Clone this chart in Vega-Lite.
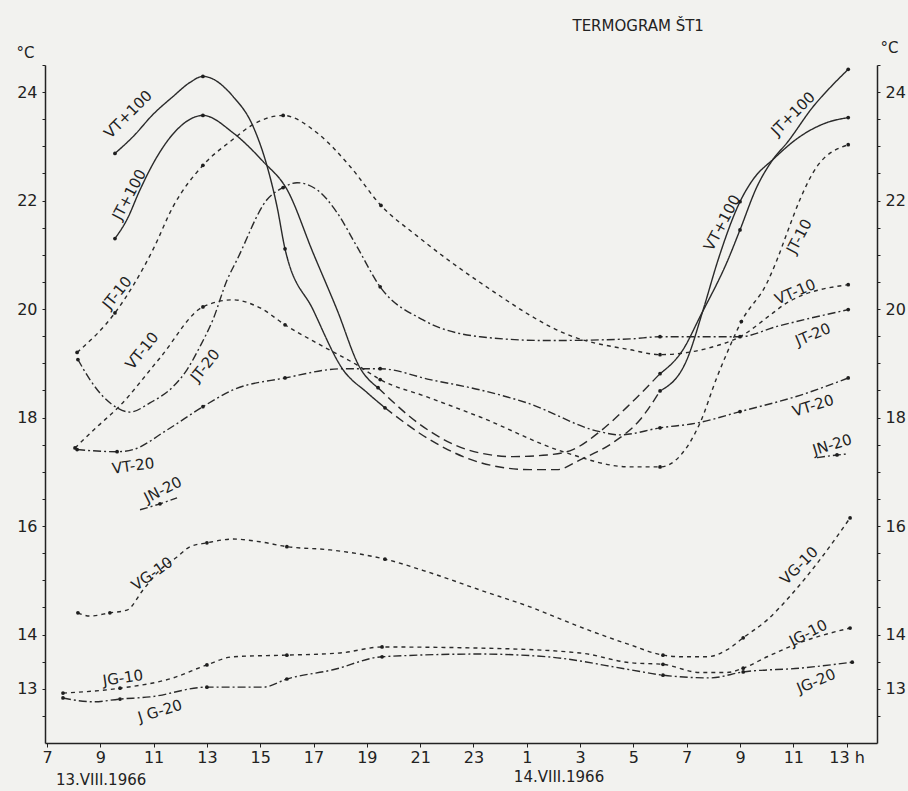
{
  "$schema": "https://vega.github.io/schema/vega-lite/v6.json",
  "width": 832,
  "height": 678,
  "autosize": {"type": "none"},
  "padding": {"left": 45, "top": 65, "right": 31, "bottom": 48},
  "background": "#f2f2ef",
  "config": {
    "view": {"stroke": null},
    "font": "DejaVu Sans",
    "text": {"font": "DejaVu Sans", "fontSize": 15, "color": "#222222"}
  },
  "datasets": {
    "curves": [
      {"seg": "VT+100 a", "h": 9.55, "t": 22.87, "obs": 1},
      {"seg": "VT+100 a", "h": 10.23, "t": 23.18, "obs": 0},
      {"seg": "VT+100 a", "h": 10.98, "t": 23.59, "obs": 0},
      {"seg": "VT+100 a", "h": 11.73, "t": 23.92, "obs": 0},
      {"seg": "VT+100 a", "h": 12.37, "t": 24.18, "obs": 0},
      {"seg": "VT+100 a", "h": 12.85, "t": 24.29, "obs": 1},
      {"seg": "VT+100 a", "h": 13.98, "t": 23.92, "obs": 0},
      {"seg": "VT+100 a", "h": 14.73, "t": 23.37, "obs": 0},
      {"seg": "VT+100 a", "h": 15.26, "t": 22.63, "obs": 0},
      {"seg": "VT+100 a", "h": 15.63, "t": 21.89, "obs": 0},
      {"seg": "VT+100 a", "h": 15.93, "t": 21.11, "obs": 1},
      {"seg": "VT+100 a", "h": 16.98, "t": 19.99, "obs": 0},
      {"seg": "VT+100 a", "h": 18.11, "t": 18.88, "obs": 0},
      {"seg": "VT+100 a", "h": 19.01, "t": 18.46, "obs": 0},
      {"seg": "VT+100 a", "h": 19.68, "t": 18.18, "obs": 1},
      {"seg": "VT+100 n", "h": 19.68, "t": 18.18, "obs": 0},
      {"seg": "VT+100 n", "h": 21.37, "t": 17.59, "obs": 0},
      {"seg": "VT+100 n", "h": 23.25, "t": 17.17, "obs": 0},
      {"seg": "VT+100 n", "h": 25.12, "t": 17.04, "obs": 0},
      {"seg": "VT+100 n", "h": 26.13, "t": 17.04, "obs": 0},
      {"seg": "VT+100 n", "h": 27.0, "t": 17.22, "obs": 0},
      {"seg": "VT+100 n", "h": 28.24, "t": 17.54, "obs": 0},
      {"seg": "VT+100 n", "h": 29.25, "t": 17.96, "obs": 0},
      {"seg": "VT+100 n", "h": 30.0, "t": 18.49, "obs": 0},
      {"seg": "VT+100 b", "h": 30.0, "t": 18.49, "obs": 1},
      {"seg": "VT+100 b", "h": 31.01, "t": 19.07, "obs": 0},
      {"seg": "VT+100 b", "h": 31.62, "t": 19.99, "obs": 0},
      {"seg": "VT+100 b", "h": 32.18, "t": 20.91, "obs": 0},
      {"seg": "VT+100 b", "h": 33.0, "t": 21.98, "obs": 1},
      {"seg": "VT+100 b", "h": 33.49, "t": 22.39, "obs": 0},
      {"seg": "VT+100 b", "h": 34.24, "t": 22.76, "obs": 0},
      {"seg": "VT+100 b", "h": 35.25, "t": 23.18, "obs": 0},
      {"seg": "VT+100 b", "h": 36.27, "t": 23.44, "obs": 0},
      {"seg": "VT+100 b", "h": 37.06, "t": 23.53, "obs": 1},
      {"seg": "JT+100 a", "h": 9.55, "t": 21.3, "obs": 1},
      {"seg": "JT+100 a", "h": 10.0, "t": 21.65, "obs": 0},
      {"seg": "JT+100 a", "h": 10.49, "t": 22.2, "obs": 0},
      {"seg": "JT+100 a", "h": 11.13, "t": 22.81, "obs": 0},
      {"seg": "JT+100 a", "h": 11.88, "t": 23.31, "obs": 0},
      {"seg": "JT+100 a", "h": 12.85, "t": 23.57, "obs": 1},
      {"seg": "JT+100 a", "h": 13.98, "t": 23.25, "obs": 0},
      {"seg": "JT+100 a", "h": 15.11, "t": 22.72, "obs": 0},
      {"seg": "JT+100 a", "h": 16.01, "t": 22.2, "obs": 0},
      {"seg": "JT+100 a", "h": 16.98, "t": 21.04, "obs": 0},
      {"seg": "JT+100 a", "h": 17.88, "t": 19.99, "obs": 0},
      {"seg": "JT+100 a", "h": 18.74, "t": 18.92, "obs": 0},
      {"seg": "JT+100 a", "h": 19.42, "t": 18.55, "obs": 1},
      {"seg": "JT+100 n", "h": 19.42, "t": 18.55, "obs": 0},
      {"seg": "JT+100 n", "h": 21.0, "t": 17.87, "obs": 0},
      {"seg": "JT+100 n", "h": 22.76, "t": 17.41, "obs": 0},
      {"seg": "JT+100 n", "h": 24.49, "t": 17.28, "obs": 0},
      {"seg": "JT+100 n", "h": 25.76, "t": 17.31, "obs": 0},
      {"seg": "JT+100 n", "h": 26.73, "t": 17.41, "obs": 0},
      {"seg": "JT+100 n", "h": 27.74, "t": 17.74, "obs": 0},
      {"seg": "JT+100 n", "h": 28.86, "t": 18.24, "obs": 0},
      {"seg": "JT+100 n", "h": 30.0, "t": 18.81, "obs": 0},
      {"seg": "JT+100 b", "h": 30.0, "t": 18.81, "obs": 1},
      {"seg": "JT+100 b", "h": 30.86, "t": 19.25, "obs": 0},
      {"seg": "JT+100 b", "h": 31.5, "t": 19.86, "obs": 0},
      {"seg": "JT+100 b", "h": 32.55, "t": 20.91, "obs": 0},
      {"seg": "JT+100 b", "h": 33.0, "t": 21.46, "obs": 1},
      {"seg": "JT+100 b", "h": 33.64, "t": 22.26, "obs": 0},
      {"seg": "JT+100 b", "h": 34.24, "t": 22.76, "obs": 0},
      {"seg": "JT+100 b", "h": 34.77, "t": 23.07, "obs": 0},
      {"seg": "JT+100 b", "h": 35.74, "t": 23.73, "obs": 0},
      {"seg": "JT+100 b", "h": 36.49, "t": 24.14, "obs": 0},
      {"seg": "JT+100 b", "h": 37.06, "t": 24.42, "obs": 1},
      {"seg": "JT-10", "h": 8.13, "t": 19.2, "obs": 1},
      {"seg": "JT-10", "h": 9.55, "t": 19.93, "obs": 1},
      {"seg": "JT-10", "h": 10.98, "t": 21.1, "obs": 0},
      {"seg": "JT-10", "h": 11.73, "t": 21.89, "obs": 0},
      {"seg": "JT-10", "h": 12.85, "t": 22.65, "obs": 1},
      {"seg": "JT-10", "h": 13.98, "t": 23.13, "obs": 0},
      {"seg": "JT-10", "h": 14.62, "t": 23.37, "obs": 0},
      {"seg": "JT-10", "h": 15.86, "t": 23.57, "obs": 1},
      {"seg": "JT-10", "h": 17.13, "t": 23.25, "obs": 0},
      {"seg": "JT-10", "h": 18.37, "t": 22.63, "obs": 0},
      {"seg": "JT-10", "h": 19.53, "t": 21.91, "obs": 1},
      {"seg": "JT-10", "h": 20.88, "t": 21.35, "obs": 0},
      {"seg": "JT-10", "h": 23.25, "t": 20.49, "obs": 0},
      {"seg": "JT-10", "h": 26.74, "t": 19.49, "obs": 0},
      {"seg": "JT-10", "h": 28.88, "t": 19.25, "obs": 0},
      {"seg": "JT-10", "h": 30.0, "t": 19.16, "obs": 1},
      {"seg": "JT-10", "h": 31.88, "t": 19.29, "obs": 0},
      {"seg": "JT-10", "h": 33.0, "t": 19.49, "obs": 0},
      {"seg": "JT-10", "h": 34.24, "t": 19.93, "obs": 0},
      {"seg": "JT-10", "h": 34.77, "t": 20.12, "obs": 0},
      {"seg": "JT-10", "h": 37.06, "t": 20.45, "obs": 1},
      {"seg": "VT-10", "h": 8.05, "t": 17.44, "obs": 1},
      {"seg": "VT-10", "h": 8.88, "t": 17.83, "obs": 0},
      {"seg": "VT-10", "h": 9.66, "t": 18.18, "obs": 0},
      {"seg": "VT-10", "h": 11.24, "t": 19.1, "obs": 0},
      {"seg": "VT-10", "h": 12.85, "t": 20.04, "obs": 1},
      {"seg": "VT-10", "h": 13.98, "t": 20.17, "obs": 0},
      {"seg": "VT-10", "h": 15.0, "t": 20.02, "obs": 0},
      {"seg": "VT-10", "h": 15.93, "t": 19.71, "obs": 1},
      {"seg": "VT-10", "h": 17.36, "t": 19.31, "obs": 0},
      {"seg": "VT-10", "h": 18.63, "t": 18.97, "obs": 0},
      {"seg": "VT-10", "h": 19.5, "t": 18.7, "obs": 1},
      {"seg": "VT-10", "h": 21.26, "t": 18.38, "obs": 0},
      {"seg": "VT-10", "h": 23.25, "t": 18.01, "obs": 0},
      {"seg": "VT-10", "h": 26.36, "t": 17.37, "obs": 0},
      {"seg": "VT-10", "h": 28.88, "t": 17.09, "obs": 0},
      {"seg": "VT-10", "h": 30.0, "t": 17.09, "obs": 1},
      {"seg": "VT-10", "h": 31.5, "t": 17.9, "obs": 0},
      {"seg": "VT-10", "h": 32.14, "t": 18.75, "obs": 0},
      {"seg": "VT-10", "h": 32.52, "t": 19.2, "obs": 0},
      {"seg": "VT-10", "h": 33.05, "t": 19.77, "obs": 1},
      {"seg": "VT-10", "h": 34.02, "t": 20.49, "obs": 0},
      {"seg": "VT-10", "h": 34.39, "t": 20.91, "obs": 0},
      {"seg": "VT-10", "h": 34.77, "t": 21.41, "obs": 0},
      {"seg": "VT-10", "h": 35.25, "t": 22.02, "obs": 0},
      {"seg": "VT-10", "h": 35.89, "t": 22.63, "obs": 0},
      {"seg": "VT-10", "h": 37.06, "t": 23.03, "obs": 1},
      {"seg": "JT-20", "h": 8.16, "t": 19.07, "obs": 1},
      {"seg": "JT-20", "h": 8.61, "t": 18.7, "obs": 0},
      {"seg": "JT-20", "h": 9.1, "t": 18.39, "obs": 0},
      {"seg": "JT-20", "h": 9.63, "t": 18.18, "obs": 0},
      {"seg": "JT-20", "h": 10.11, "t": 18.1, "obs": 0},
      {"seg": "JT-20", "h": 10.86, "t": 18.27, "obs": 0},
      {"seg": "JT-20", "h": 11.73, "t": 18.57, "obs": 0},
      {"seg": "JT-20", "h": 12.25, "t": 18.88, "obs": 0},
      {"seg": "JT-20", "h": 12.74, "t": 19.31, "obs": 0},
      {"seg": "JT-20", "h": 13.23, "t": 19.81, "obs": 0},
      {"seg": "JT-20", "h": 13.76, "t": 20.54, "obs": 0},
      {"seg": "JT-20", "h": 14.13, "t": 20.91, "obs": 0},
      {"seg": "JT-20", "h": 15.26, "t": 22.02, "obs": 0},
      {"seg": "JT-20", "h": 15.86, "t": 22.24, "obs": 1},
      {"seg": "JT-20", "h": 16.38, "t": 22.33, "obs": 0},
      {"seg": "JT-20", "h": 17.13, "t": 22.2, "obs": 0},
      {"seg": "JT-20", "h": 17.88, "t": 21.78, "obs": 0},
      {"seg": "JT-20", "h": 18.63, "t": 21.15, "obs": 0},
      {"seg": "JT-20", "h": 19.5, "t": 20.41, "obs": 1},
      {"seg": "JT-20", "h": 21.11, "t": 19.8, "obs": 0},
      {"seg": "JT-20", "h": 23.25, "t": 19.49, "obs": 0},
      {"seg": "JT-20", "h": 25.76, "t": 19.42, "obs": 0},
      {"seg": "JT-20", "h": 28.88, "t": 19.45, "obs": 0},
      {"seg": "JT-20", "h": 30.0, "t": 19.49, "obs": 1},
      {"seg": "JT-20", "h": 33.0, "t": 19.49, "obs": 1},
      {"seg": "JT-20", "h": 34.39, "t": 19.68, "obs": 0},
      {"seg": "JT-20", "h": 37.06, "t": 19.99, "obs": 1},
      {"seg": "VT-20", "h": 8.13, "t": 17.41, "obs": 1},
      {"seg": "VT-20", "h": 9.63, "t": 17.37, "obs": 1},
      {"seg": "VT-20", "h": 10.23, "t": 17.41, "obs": 0},
      {"seg": "VT-20", "h": 11.5, "t": 17.77, "obs": 0},
      {"seg": "VT-20", "h": 12.85, "t": 18.2, "obs": 1},
      {"seg": "VT-20", "h": 13.98, "t": 18.51, "obs": 0},
      {"seg": "VT-20", "h": 15.93, "t": 18.73, "obs": 1},
      {"seg": "VT-20", "h": 18.11, "t": 18.9, "obs": 0},
      {"seg": "VT-20", "h": 19.5, "t": 18.9, "obs": 1},
      {"seg": "VT-20", "h": 21.37, "t": 18.7, "obs": 0},
      {"seg": "VT-20", "h": 23.25, "t": 18.51, "obs": 0},
      {"seg": "VT-20", "h": 25.01, "t": 18.27, "obs": 0},
      {"seg": "VT-20", "h": 27.74, "t": 17.74, "obs": 0},
      {"seg": "VT-20", "h": 28.5, "t": 17.68, "obs": 0},
      {"seg": "VT-20", "h": 30.0, "t": 17.81, "obs": 1},
      {"seg": "VT-20", "h": 31.39, "t": 17.9, "obs": 0},
      {"seg": "VT-20", "h": 33.0, "t": 18.11, "obs": 1},
      {"seg": "VT-20", "h": 35.25, "t": 18.41, "obs": 0},
      {"seg": "VT-20", "h": 37.06, "t": 18.73, "obs": 1},
      {"seg": "JN-20 a", "h": 10.49, "t": 16.3, "obs": 0},
      {"seg": "JN-20 a", "h": 11.24, "t": 16.41, "obs": 1},
      {"seg": "JN-20 a", "h": 11.88, "t": 16.52, "obs": 0},
      {"seg": "JN-20 b", "h": 35.89, "t": 17.26, "obs": 0},
      {"seg": "JN-20 b", "h": 36.64, "t": 17.31, "obs": 1},
      {"seg": "JN-20 b", "h": 37.06, "t": 17.33, "obs": 0},
      {"seg": "VG-10", "h": 8.16, "t": 14.4, "obs": 1},
      {"seg": "VG-10", "h": 8.61, "t": 14.34, "obs": 0},
      {"seg": "VG-10", "h": 9.36, "t": 14.4, "obs": 1},
      {"seg": "VG-10", "h": 10.0, "t": 14.45, "obs": 0},
      {"seg": "VG-10", "h": 10.6, "t": 14.82, "obs": 0},
      {"seg": "VG-10", "h": 11.24, "t": 15.19, "obs": 0},
      {"seg": "VG-10", "h": 11.88, "t": 15.43, "obs": 0},
      {"seg": "VG-10", "h": 12.37, "t": 15.62, "obs": 0},
      {"seg": "VG-10", "h": 13.0, "t": 15.69, "obs": 1},
      {"seg": "VG-10", "h": 13.98, "t": 15.76, "obs": 0},
      {"seg": "VG-10", "h": 14.99, "t": 15.71, "obs": 0},
      {"seg": "VG-10", "h": 16.0, "t": 15.62, "obs": 1},
      {"seg": "VG-10", "h": 17.62, "t": 15.56, "obs": 0},
      {"seg": "VG-10", "h": 19.68, "t": 15.39, "obs": 1},
      {"seg": "VG-10", "h": 21.37, "t": 15.14, "obs": 0},
      {"seg": "VG-10", "h": 23.25, "t": 14.82, "obs": 0},
      {"seg": "VG-10", "h": 25.12, "t": 14.51, "obs": 0},
      {"seg": "VG-10", "h": 27.0, "t": 14.14, "obs": 0},
      {"seg": "VG-10", "h": 28.88, "t": 13.81, "obs": 0},
      {"seg": "VG-10", "h": 30.11, "t": 13.62, "obs": 1},
      {"seg": "VG-10", "h": 30.86, "t": 13.59, "obs": 0},
      {"seg": "VG-10", "h": 31.77, "t": 13.59, "obs": 0},
      {"seg": "VG-10", "h": 32.52, "t": 13.72, "obs": 0},
      {"seg": "VG-10", "h": 33.12, "t": 13.94, "obs": 1},
      {"seg": "VG-10", "h": 34.02, "t": 14.27, "obs": 0},
      {"seg": "VG-10", "h": 34.99, "t": 14.77, "obs": 0},
      {"seg": "VG-10", "h": 36.0, "t": 15.38, "obs": 0},
      {"seg": "VG-10", "h": 37.13, "t": 16.15, "obs": 1},
      {"seg": "JG-10", "h": 7.6, "t": 12.92, "obs": 1},
      {"seg": "JG-10", "h": 9.74, "t": 13.01, "obs": 1},
      {"seg": "JG-10", "h": 11.73, "t": 13.2, "obs": 0},
      {"seg": "JG-10", "h": 13.0, "t": 13.44, "obs": 1},
      {"seg": "JG-10", "h": 13.98, "t": 13.59, "obs": 0},
      {"seg": "JG-10", "h": 16.0, "t": 13.62, "obs": 1},
      {"seg": "JG-10", "h": 18.0, "t": 13.66, "obs": 0},
      {"seg": "JG-10", "h": 19.57, "t": 13.77, "obs": 1},
      {"seg": "JG-10", "h": 23.25, "t": 13.75, "obs": 0},
      {"seg": "JG-10", "h": 27.0, "t": 13.66, "obs": 0},
      {"seg": "JG-10", "h": 28.88, "t": 13.48, "obs": 0},
      {"seg": "JG-10", "h": 30.11, "t": 13.45, "obs": 1},
      {"seg": "JG-10", "h": 31.5, "t": 13.3, "obs": 0},
      {"seg": "JG-10", "h": 32.5, "t": 13.3, "obs": 0},
      {"seg": "JG-10", "h": 33.12, "t": 13.38, "obs": 1},
      {"seg": "JG-10", "h": 34.02, "t": 13.59, "obs": 0},
      {"seg": "JG-10", "h": 35.25, "t": 13.85, "obs": 0},
      {"seg": "JG-10", "h": 37.13, "t": 14.12, "obs": 1},
      {"seg": "JG-20", "h": 7.6, "t": 12.83, "obs": 1},
      {"seg": "JG-20", "h": 8.73, "t": 12.76, "obs": 0},
      {"seg": "JG-20", "h": 9.74, "t": 12.81, "obs": 1},
      {"seg": "JG-20", "h": 10.86, "t": 12.85, "obs": 0},
      {"seg": "JG-20", "h": 13.0, "t": 13.03, "obs": 1},
      {"seg": "JG-20", "h": 15.11, "t": 13.03, "obs": 0},
      {"seg": "JG-20", "h": 16.0, "t": 13.18, "obs": 1},
      {"seg": "JG-20", "h": 17.73, "t": 13.35, "obs": 0},
      {"seg": "JG-20", "h": 19.57, "t": 13.59, "obs": 1},
      {"seg": "JG-20", "h": 23.25, "t": 13.64, "obs": 0},
      {"seg": "JG-20", "h": 25.76, "t": 13.59, "obs": 0},
      {"seg": "JG-20", "h": 28.88, "t": 13.35, "obs": 0},
      {"seg": "JG-20", "h": 30.11, "t": 13.25, "obs": 1},
      {"seg": "JG-20", "h": 31.88, "t": 13.2, "obs": 0},
      {"seg": "JG-20", "h": 33.12, "t": 13.31, "obs": 1},
      {"seg": "JG-20", "h": 35.25, "t": 13.38, "obs": 0},
      {"seg": "JG-20", "h": 37.21, "t": 13.49, "obs": 1}
    ],
    "labels": [
      {"name": "VT+100", "side": "L", "h": 10.04, "t": 23.59},
      {"name": "JT+100", "side": "L", "h": 10.08, "t": 22.11},
      {"name": "JT-10", "side": "L", "h": 9.63, "t": 20.3},
      {"name": "VT-10", "side": "L", "h": 10.56, "t": 19.23},
      {"name": "JT-20", "side": "L", "h": 12.93, "t": 18.96},
      {"name": "VT-20", "side": "L", "h": 10.23, "t": 17.11},
      {"name": "JN-20", "side": "L", "h": 11.35, "t": 16.67},
      {"name": "VG-10", "side": "L", "h": 10.94, "t": 15.12},
      {"name": "JG-10", "side": "L", "h": 9.85, "t": 13.2},
      {"name": "J G-20", "side": "L", "h": 11.24, "t": 12.59},
      {"name": "JT+100", "side": "R", "h": 34.99, "t": 23.6},
      {"name": "VT+100", "side": "R", "h": 32.33, "t": 21.59},
      {"name": "JT-10", "side": "R", "h": 35.22, "t": 21.34},
      {"name": "VT-10", "side": "R", "h": 35.07, "t": 20.32},
      {"name": "JT-20", "side": "R", "h": 35.74, "t": 19.53},
      {"name": "VT-20", "side": "R", "h": 35.74, "t": 18.22},
      {"name": "JN-20", "side": "R", "h": 36.46, "t": 17.5},
      {"name": "VG-10", "side": "R", "h": 35.22, "t": 15.27},
      {"name": "JG-10", "side": "R", "h": 35.56, "t": 14.03},
      {"name": "JG-20", "side": "R", "h": 35.86, "t": 13.14}
    ],
    "notes": [
      {"text": "TERMOGRAM ŠT1", "h": 29.18, "t": 25.21},
      {"text": "13.VIII.1966", "h": 9.03, "t": 11.32},
      {"text": "14.VIII.1966", "h": 26.21, "t": 11.37}
    ]
  },
  "resolve": {"axis": {"y": "independent"}},
  "layer": [
    {
      "data": {"name": "curves"},
      "mark": {"type": "line", "interpolate": "monotone", "strokeWidth": 1.4, "color": "#2a2a2a"},
      "encoding": {
        "x": {
          "field": "h", "type": "quantitative",
          "scale": {"domain": [6.925, 38.14], "nice": false, "zero": false},
          "axis": {
            "values": [7, 8, 9, 10, 11, 12, 13, 14, 15, 16, 17, 18, 19, 20, 21, 22, 23, 24, 25, 26, 27, 28, 29, 30, 31, 32, 33, 34, 35, 36, 37],
            "labelExpr": "datum.value % 2 == 1 ? (datum.value > 24 ? datum.value - 24 : datum.value) + (datum.value == 37 ? ' h' : '') : ''",
            "title": null, "grid": false, "tickSize": 4, "labelPadding": 2,
            "labelFontSize": 16, "labelFont": "DejaVu Sans", "labelColor": "#222222",
            "domainColor": "#222222", "domainWidth": 1.5, "tickColor": "#222222", "labelFlush": false, "labelOverlap": false
          }
        },
        "y": {
          "field": "t", "type": "quantitative",
          "scale": {"domain": [12, 24.5], "nice": false, "zero": false},
          "axis": {
            "orient": "left",
            "values": [12.5, 13, 13.5, 14, 14.5, 15, 15.5, 16, 16.5, 17, 17.5, 18, 18.5, 19, 19.5, 20, 20.5, 21, 21.5, 22, 22.5, 23, 23.5, 24, 24.5],
            "labelExpr": "indexof([13, 14, 16, 18, 20, 22, 24], datum.value) >= 0 ? '' + datum.value : ''",
            "grid": false, "tickSize": 3, "labelPadding": 5,
            "labelFontSize": 16, "labelFont": "DejaVu Sans", "labelColor": "#222222",
            "domainColor": "#222222", "domainWidth": 1.5, "tickColor": "#222222", "labelOverlap": false,
            "title": "°C", "titleAngle": 0, "titleX": -20, "titleY": -13, "titleAlign": "center", "titleBaseline": "middle",
            "titleFontSize": 15, "titleFontWeight": "normal", "titleFont": "DejaVu Sans", "titleColor": "#222222"
          }
        },
        "detail": {"field": "seg"},
        "strokeDash": {
          "field": "seg", "type": "nominal", "legend": null,
          "scale": {
            "domain": ["VT+100 a", "VT+100 n", "VT+100 b", "JT+100 a", "JT+100 n", "JT+100 b", "JT-10", "VT-10", "VG-10", "JG-10", "JT-20", "VT-20", "JN-20 a", "JN-20 b", "JG-20"],
            "range": [[1, 0], [9, 5], [1, 0], [1, 0], [9, 5], [1, 0], [4, 4], [4, 4], [4, 4], [4, 4], [8, 3, 2, 3], [8, 3, 2, 3], [8, 3, 2, 3], [8, 3, 2, 3], [8, 3, 2, 3]]
          }
        }
      }
    },
    {
      "data": {"name": "curves"},
      "transform": [{"filter": "datum.obs == 1"}],
      "mark": {"type": "circle", "size": 14, "color": "#1e1e1e", "opacity": 1},
      "encoding": {
        "x": {"field": "h", "type": "quantitative"},
        "y": {
          "field": "t", "type": "quantitative",
          "axis": {
            "orient": "right",
            "values": [12.5, 13, 13.5, 14, 14.5, 15, 15.5, 16, 16.5, 17, 17.5, 18, 18.5, 19, 19.5, 20, 20.5, 21, 21.5, 22, 22.5, 23, 23.5, 24, 24.5],
            "labelExpr": "indexof([13, 14, 16, 18, 20, 22, 24], datum.value) >= 0 ? '' + datum.value : ''",
            "grid": false, "tickSize": 3, "labelPadding": 5,
            "labelFontSize": 16, "labelFont": "DejaVu Sans", "labelColor": "#222222",
            "domainColor": "#222222", "domainWidth": 1.5, "tickColor": "#222222", "labelOverlap": false,
            "title": "°C", "titleAngle": 0, "titleX": 12, "titleY": -18, "titleAlign": "center", "titleBaseline": "middle",
            "titleFontSize": 15, "titleFontWeight": "normal", "titleFont": "DejaVu Sans", "titleColor": "#222222"
          }
        }
      }
    },
    {
      "data": {"name": "labels"},
      "transform": [{"filter": "indexof(['VT+100L', 'JT+100R', 'VG-10R'], datum.name + datum.side) >= 0"}],
      "mark": {"type": "text", "angle": -45, "fontSize": 15},
      "encoding": {"x": {"field": "h", "type": "quantitative"}, "y": {"field": "t", "type": "quantitative", "axis": null}, "text": {"field": "name"}}
    },
    {
      "data": {"name": "labels"},
      "transform": [{"filter": "indexof(['JT+100L', 'VT+100R', 'JT-10R'], datum.name + datum.side) >= 0"}],
      "mark": {"type": "text", "angle": -62, "fontSize": 15},
      "encoding": {"x": {"field": "h", "type": "quantitative"}, "y": {"field": "t", "type": "quantitative", "axis": null}, "text": {"field": "name"}}
    },
    {
      "data": {"name": "labels"},
      "transform": [{"filter": "indexof(['JT-10L', 'VT-10L', 'JT-20L'], datum.name + datum.side) >= 0"}],
      "mark": {"type": "text", "angle": -51, "fontSize": 15},
      "encoding": {"x": {"field": "h", "type": "quantitative"}, "y": {"field": "t", "type": "quantitative", "axis": null}, "text": {"field": "name"}}
    },
    {
      "data": {"name": "labels"},
      "transform": [{"filter": "indexof(['VT-20L', 'JG-10L'], datum.name + datum.side) >= 0"}],
      "mark": {"type": "text", "angle": -8, "fontSize": 15},
      "encoding": {"x": {"field": "h", "type": "quantitative"}, "y": {"field": "t", "type": "quantitative", "axis": null}, "text": {"field": "name"}}
    },
    {
      "data": {"name": "labels"},
      "transform": [{"filter": "indexof(['JN-20L', 'JG-10R'], datum.name + datum.side) >= 0"}],
      "mark": {"type": "text", "angle": -27, "fontSize": 15},
      "encoding": {"x": {"field": "h", "type": "quantitative"}, "y": {"field": "t", "type": "quantitative", "axis": null}, "text": {"field": "name"}}
    },
    {
      "data": {"name": "labels"},
      "transform": [{"filter": "indexof(['VG-10L'], datum.name + datum.side) >= 0"}],
      "mark": {"type": "text", "angle": -35, "fontSize": 15},
      "encoding": {"x": {"field": "h", "type": "quantitative"}, "y": {"field": "t", "type": "quantitative", "axis": null}, "text": {"field": "name"}}
    },
    {
      "data": {"name": "labels"},
      "transform": [{"filter": "indexof(['J G-20L', 'VT-20R', 'JN-20R'], datum.name + datum.side) >= 0"}],
      "mark": {"type": "text", "angle": -17, "fontSize": 15},
      "encoding": {"x": {"field": "h", "type": "quantitative"}, "y": {"field": "t", "type": "quantitative", "axis": null}, "text": {"field": "name"}}
    },
    {
      "data": {"name": "labels"},
      "transform": [{"filter": "indexof(['VT-10R', 'JT-20R', 'JG-20R'], datum.name + datum.side) >= 0"}],
      "mark": {"type": "text", "angle": -23, "fontSize": 15},
      "encoding": {"x": {"field": "h", "type": "quantitative"}, "y": {"field": "t", "type": "quantitative", "axis": null}, "text": {"field": "name"}}
    },
    {
      "data": {"name": "notes"},
      "mark": {"type": "text", "fontSize": 15},
      "encoding": {"x": {"field": "h", "type": "quantitative"}, "y": {"field": "t", "type": "quantitative", "axis": null}, "text": {"field": "text"}}
    }
  ]
}
